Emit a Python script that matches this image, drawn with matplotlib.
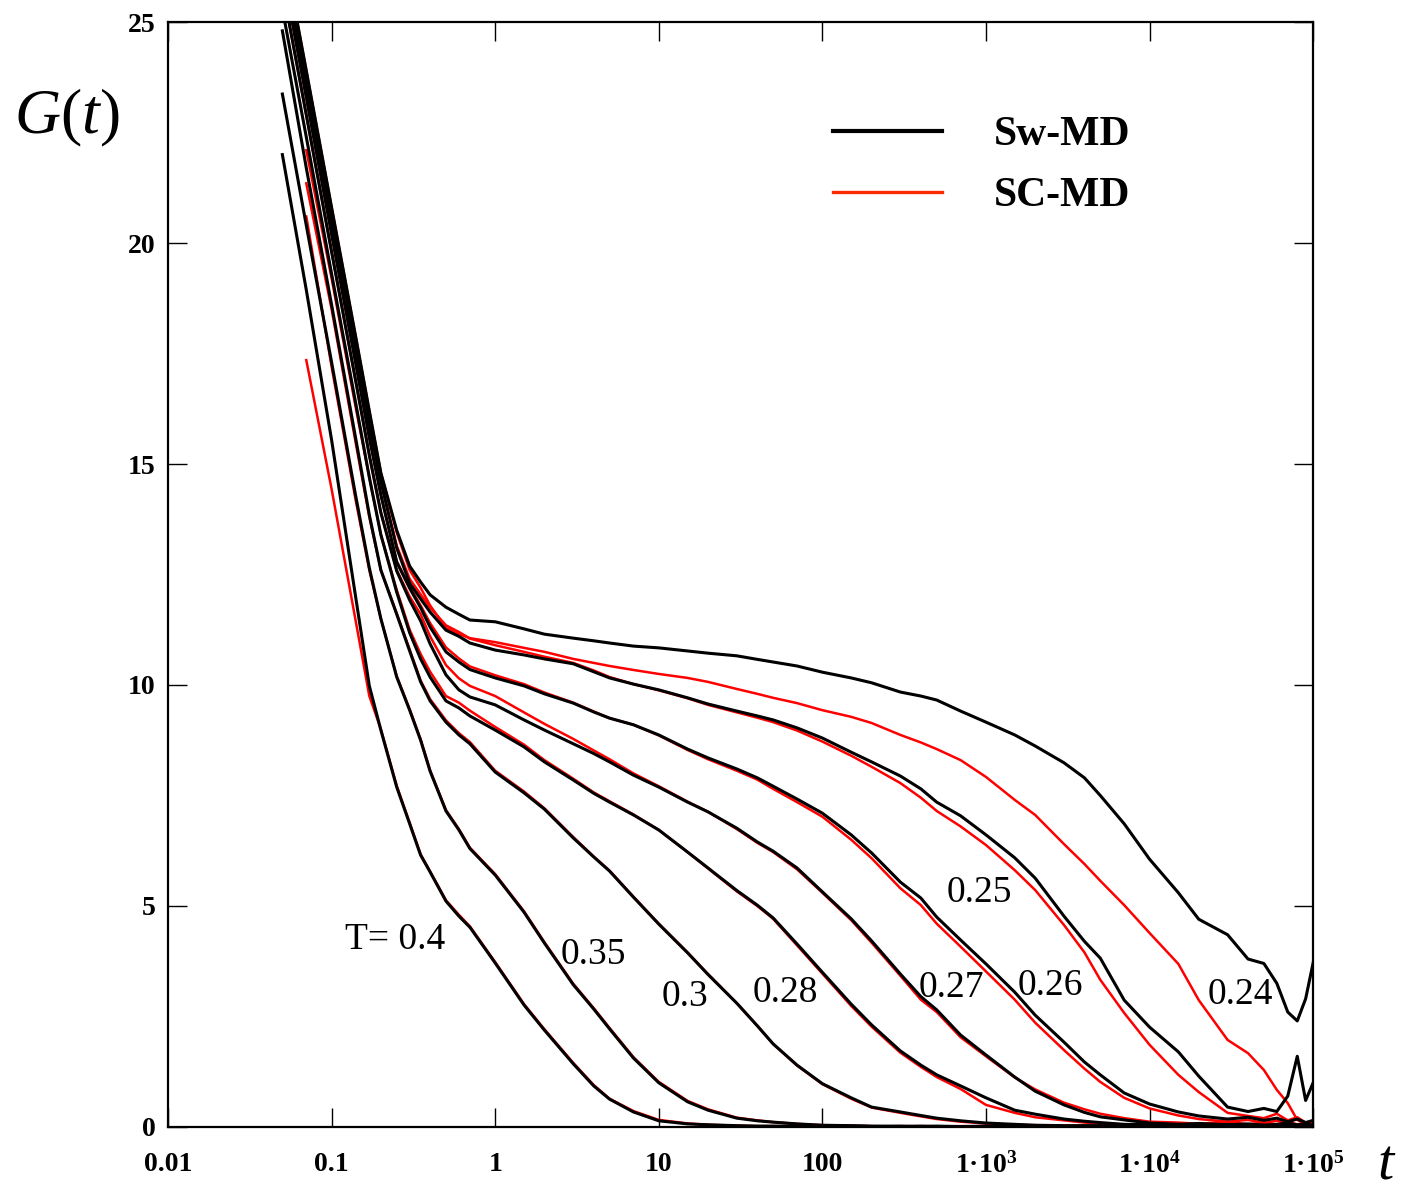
"""
G(t) relaxation curves, Sw-MD vs SC-MD
"""

import numpy as np
import matplotlib
matplotlib.use("Agg")
import matplotlib.pyplot as plt
from matplotlib.lines import Line2D
from matplotlib.ticker import FixedLocator, NullLocator

nan = np.nan

# time grid shared by all curves
t = [0.05, 0.07, 0.1, 0.14, 0.17,
     0.2, 0.25, 0.3, 0.35, 0.4,
     0.5, 0.6, 0.7, 1, 1.5,
     2, 3, 4, 5, 7,
     10, 15, 20, 30, 40,
     50, 70, 100, 150, 200,
     300, 400, 500, 700, 1e3,
     1.5e3, 2e3, 3e3, 4e3, 5e3,
     7e3, 1e4, 1.5e4, 2e4, 3e4,
     4e4, 5e4, 6e4, 7e4, 8e4,
     9e4, 1e5]

# Sw-MD (black), T = 0.4 ... 0.24
sw_040 = [22.0, 18.94, 15.54, 12.01, 9.98,
          8.98, 7.69, 6.86, 6.15, 5.77,
          5.11, 4.77, 4.52, 3.71, 2.76,
          2.19, 1.43, 0.93, 0.63, 0.34,
          0.14, 0.07, 0.05, 0.03, 0.02,
          0.02, 0.02, 0.01, 0.02, 0.01,
          0.01, 0.02, 0.01, 0.01, 0.01,
          0.02, 0.01, 0.01, 0.02, 0.01,
          0.01, 0.01, 0.02, 0.01, 0.01,
          0.02, 0.01, 0.02, 0.01, 0.03,
          0.01, 0.02]
sw_035 = [23.37, 20.4, 17.3, 14.3, 12.65,
          11.5, 10.18, 9.43, 8.75, 8.05,
          7.15, 6.72, 6.3, 5.70, 4.86,
          4.16, 3.22, 2.67, 2.22, 1.56,
          1.00, 0.57, 0.38, 0.20, 0.14,
          0.11, 0.07, 0.04, 0.03, 0.02,
          0.02, 0.01, 0.02, 0.01, 0.02,
          0.01, 0.02, 0.01, 0.01, 0.02,
          0.01, 0.02, 0.01, 0.02, 0.01,
          0.03, 0.01, 0.02, 0.03, 0.01,
          0.02, 0.01]
sw_030 = [24.8, 21.7, 18.6, 15.6, 13.85,
          12.6, 11.6, 10.77, 10.07, 9.64,
          9.16, 8.87, 8.67, 8.03, 7.56,
          7.19, 6.54, 6.11, 5.79, 5.2,
          4.59, 3.94, 3.45, 2.8, 2.29,
          1.88, 1.4, 0.98, 0.66, 0.45,
          0.34, 0.26, 0.2, 0.14, 0.09,
          0.06, 0.04, 0.03, 0.03, 0.03,
          0.02, 0.02, 0.01, 0.02, 0.02,
          0.01, 0.03, 0.02, 0.01, 0.03,
          0.02, 0.02]
sw_028 = [25.3, 22.4, 19.3, 16.4, 14.7,
          13.4, 12.1, 11.18, 10.59, 10.18,
          9.64, 9.48, 9.30, 8.98, 8.60,
          8.26, 7.85, 7.55, 7.35, 7.06,
          6.72, 6.22, 5.86, 5.35, 5.02,
          4.73, 4.14, 3.5, 2.78, 2.31,
          1.72, 1.40, 1.18, 0.93, 0.66,
          0.38, 0.29, 0.18, 0.13, 0.1,
          0.06, 0.05, 0.04, 0.03, 0.05,
          0.03, 0.04, 0.02, 0.05, 0.03,
          0.04, 0.02]
sw_027 = [25.8, 22.9, 19.8, 16.9, 15.2,
          13.9, 12.58, 11.92, 11.45, 10.93,
          10.23, 9.89, 9.73, 9.55, 9.21,
          8.98, 8.67, 8.45, 8.26, 7.96,
          7.69, 7.35, 7.13, 6.76, 6.45,
          6.24, 5.86, 5.32, 4.71, 4.21,
          3.46, 2.95, 2.65, 2.08, 1.63,
          1.13, 0.81, 0.5, 0.33, 0.23,
          0.16, 0.09, 0.06, 0.08, 0.05,
          0.07, 0.04, 0.06, 0.09, 0.05,
          0.07, 0.04]
sw_026 = [26.2, 23.3, 20.2, 17.3, 15.6,
          14.3, 12.78, 12.19, 11.75, 11.31,
          10.75, 10.52, 10.35, 10.16, 9.98,
          9.8, 9.59, 9.39, 9.25, 9.1,
          8.87, 8.55, 8.35, 8.1, 7.9,
          7.71, 7.42, 7.1, 6.61, 6.20,
          5.54, 5.18, 4.75, 4.23, 3.69,
          3.05, 2.53, 1.92, 1.47, 1.18,
          0.77, 0.52, 0.34, 0.25, 0.18,
          0.22, 0.15, 0.2, 0.12, 0.18,
          0.1, 0.15]
sw_025 = [26.5, 23.6, 20.5, 17.6, 15.9,
          14.6, 13.1, 12.3, 11.95, 11.65,
          11.24, 11.1, 10.95, 10.79, 10.68,
          10.59, 10.48, 10.3, 10.16, 10.02,
          9.89, 9.71, 9.57, 9.41, 9.3,
          9.21, 9.03, 8.80, 8.48, 8.26,
          7.94, 7.65, 7.35, 7.04, 6.61,
          6.09, 5.63, 4.77, 4.2, 3.82,
          2.87, 2.26, 1.70, 1.15, 0.45,
          0.35, 0.42, 0.35, 0.7, 1.6,
          0.6, 1.0]
sw_024 = [26.8, 23.9, 20.8, 17.9, 16.2,
          14.8, 13.5, 12.69, 12.33, 12.04,
          11.76, 11.6, 11.47, 11.43, 11.27,
          11.15, 11.06, 11.0, 10.95, 10.88,
          10.84, 10.77, 10.72, 10.66, 10.58,
          10.52, 10.43, 10.29, 10.16, 10.05,
          9.84, 9.75, 9.66, 9.41, 9.16,
          8.87, 8.62, 8.24, 7.9, 7.5,
          6.86, 6.06, 5.3, 4.7, 4.35,
          3.8, 3.7, 3.25, 2.6, 2.4,
          2.9, 3.71]

# SC-MD (red), same temperatures
sc_040 = [nan, 17.35, 14.43, 11.47, 9.75,
          9.0, 7.72, 6.88, 6.17, 5.78,
          5.13, 4.8, 4.54, 3.73, 2.78,
          2.21, 1.45, 0.95, 0.64, 0.36,
          0.16, 0.08, 0.05, 0.03, 0.02,
          0.02, 0.01, 0.02, 0.01, 0.01,
          0.02, 0.01, 0.01, 0.02, 0.01,
          0.01, 0.02, 0.01, 0.01, 0.02,
          0.01, 0.01, 0.02, 0.01, 0.02,
          0.01, 0.02, 0.01, 0.02, 0.01,
          0.02, 0.01]
sc_035 = [nan, 20.6, 17.2, 14.2, 12.6,
          11.5, 10.2, 9.45, 8.77, 8.07,
          7.17, 6.74, 6.32, 5.72, 4.88,
          4.18, 3.24, 2.69, 2.24, 1.58,
          1.02, 0.59, 0.4, 0.21, 0.15,
          0.11, 0.07, 0.04, 0.03, 0.02,
          0.01, 0.02, 0.01, 0.01, 0.02,
          0.01, 0.01, 0.02, 0.01, 0.02,
          0.02, 0.01, 0.02, 0.01, 0.01,
          0.02, 0.01, 0.02, 0.01, 0.02,
          0.01, 0.02]
sc_030 = [nan, 21.35, 18.5, 15.5, 13.8,
          12.6, 11.62, 10.8, 10.1, 9.68,
          9.2, 8.91, 8.71, 8.06, 7.59,
          7.21, 6.56, 6.12, 5.8, 5.21,
          4.6, 3.95, 3.46, 2.8, 2.29,
          1.88, 1.39, 0.97, 0.64, 0.44,
          0.32, 0.24, 0.18, 0.12, 0.08,
          0.05, 0.04, 0.03, 0.02, 0.02,
          0.03, 0.02, 0.02, 0.03, 0.02,
          0.02, 0.03, 0.02, 0.03, 0.02,
          0.02, 0.03]
sc_028 = [nan, 22.1, 19.2, 16.3, 14.7,
          13.4, 12.15, 11.25, 10.7, 10.3,
          9.75, 9.6, 9.42, 9.05, 8.65,
          8.3, 7.88, 7.57, 7.37, 7.07,
          6.72, 6.22, 5.85, 5.33, 5.0,
          4.71, 4.11, 3.47, 2.74, 2.27,
          1.68, 1.36, 1.13, 0.86, 0.5,
          0.32, 0.22, 0.15, 0.1, 0.08,
          0.06, 0.05, 0.06, 0.04, 0.07,
          0.03, 0.05, 0.04, 0.08, 0.03,
          0.05, 0.04]
sc_027 = [25.8, 22.9, 19.8, 16.9, 15.2,
          13.9, 12.6, 12.0, 11.6, 11.1,
          10.45, 10.15, 9.98, 9.75, 9.38,
          9.12, 8.78, 8.52, 8.32, 8.0,
          7.71, 7.36, 7.13, 6.74, 6.43,
          6.22, 5.83, 5.3, 4.68, 4.17,
          3.42, 2.88, 2.6, 2.03, 1.6,
          1.12, 0.85, 0.55, 0.4, 0.3,
          0.2, 0.12, 0.1, 0.07, 0.12,
          0.06, 0.1, 0.05, 0.11, 0.06,
          0.09, 0.05]
sc_026 = [26.2, 23.3, 20.2, 17.3, 15.6,
          14.3, 12.8, 12.22, 11.8, 11.4,
          10.85, 10.6, 10.42, 10.22, 10.02,
          9.83, 9.6, 9.4, 9.25, 9.1,
          8.86, 8.53, 8.32, 8.06, 7.86,
          7.65, 7.35, 7.02, 6.5, 6.08,
          5.4, 5.02, 4.6, 4.08, 3.52,
          2.88, 2.36, 1.74, 1.32, 1.02,
          0.66, 0.42, 0.26, 0.18, 0.12,
          0.16, 0.09, 0.14, 0.08, 0.2,
          0.06, 0.1]
sc_025 = [26.5, 23.6, 20.5, 17.6, 15.9,
          14.6, 13.15, 12.4, 12.05, 11.75,
          11.35, 11.2, 11.05, 10.9, 10.75,
          10.64, 10.5, 10.33, 10.18, 10.02,
          9.88, 9.7, 9.55, 9.38, 9.26,
          9.16, 8.97, 8.72, 8.40, 8.15,
          7.78, 7.45, 7.15, 6.8, 6.38,
          5.81, 5.36, 4.57, 3.95, 3.33,
          2.58, 1.86, 1.18, 0.79, 0.32,
          0.25, 0.2, 0.3, 0.15, 0.22,
          0.1, 0.12]
sc_024 = [26.8, 23.9, 20.8, 17.9, 16.2,
          14.8, 13.45, 12.6, 12.2, 11.8,
          11.29, 11.15, 11.06, 10.97, 10.84,
          10.75, 10.59, 10.5, 10.43, 10.34,
          10.25, 10.16, 10.07, 9.91, 9.8,
          9.71, 9.59, 9.43, 9.28, 9.14,
          8.87, 8.7, 8.55, 8.30, 7.92,
          7.4, 7.06, 6.4, 5.95, 5.57,
          5.02, 4.39, 3.69, 2.87, 1.97,
          1.67, 1.29, 0.84, 0.54, 0.16,
          0.07, 0.05]

sw_curves = [sw_040, sw_035, sw_030, sw_028, sw_027, sw_026, sw_025, sw_024]
sc_curves = [sc_040, sc_035, sc_030, sc_028, sc_027, sc_026, sc_025, sc_024]

x_ticks = [0.01, 0.1, 1, 10, 100, 1e3, 1e4, 1e5]
x_tick_labels = ["0.01", "0.1", "1", "10", "100",
                 "1\u00b710$^{\\mathbf{3}}$", "1\u00b710$^{\\mathbf{4}}$",
                 "1\u00b710$^{\\mathbf{5}}$"]
y_ticks = [0, 5, 10, 15, 20, 25]

# label text and where it sits (t, G)
curve_labels = [("T= 0.4", 0.243, 4.23), ("0.35", 4.0, 3.89), ("0.3", 14.4, 2.94),
                ("0.28", 59, 3.03), ("0.27", 611, 3.14), ("0.26", 2460, 3.19),
                ("0.25", 918, 5.29), ("0.24", 35700, 2.99)]

plt.rcParams['font.family'] = ['Liberation Serif', 'DejaVu Serif']
plt.rcParams['mathtext.fontset'] = 'custom'
plt.rcParams['mathtext.rm'] = 'Liberation Serif'
plt.rcParams['mathtext.it'] = 'Liberation Serif:italic'
plt.rcParams['mathtext.bf'] = 'Liberation Serif:bold'

fig = plt.figure(figsize=(14.05, 11.96), dpi=100)
ax = fig.add_axes([0.1196, 0.0577, 0.8150, 0.9239])

for g in sc_curves:
    ax.plot(t, g, color='#ff0000', lw=1.8, solid_joinstyle='round')
for g in sw_curves:
    ax.plot(t, g, color='black', lw=2.2, solid_joinstyle='round')

ax.set_xscale('log')
ax.set_xlim(0.01, 1e5)
ax.set_ylim(0, 25)
ax.xaxis.set_major_locator(FixedLocator(x_ticks))
ax.xaxis.set_minor_locator(NullLocator())
ax.set_xticklabels(x_tick_labels, fontweight='bold', fontsize=20)
ax.set_yticks(y_ticks)
ax.set_yticklabels([str(v) for v in y_ticks], fontweight='bold', fontsize=20)
ax.tick_params(axis='both', which='major', direction='in', length=14, width=1,
               top=True, right=True)
ax.tick_params(axis='x', pad=18)
ax.tick_params(axis='y', pad=9)
for s in ax.spines.values():
    s.set_linewidth(1.6)

for txt, tx, gy in curve_labels:
    ax.text(tx, gy, txt, fontsize=27, ha='center', va='center')

handles = [Line2D([], [], color='black', lw=3.0),
           Line2D([], [], color='#ff2a00', lw=2.4)]
ax.legend(handles, ["Sw-MD", "SC-MD"], loc='upper left',
          bbox_to_anchor=(0.581, 0.915), frameon=False,
          prop=dict(family='Liberation Serif', weight='bold', size=30),
          handlelength=2.6, handletextpad=1.25, labelspacing=0.55,
          borderpad=0, borderaxespad=0)

fig.text(0.0475, 0.9013, "$G(t)$", fontsize=46, ha='center', va='center')
fig.text(0.987, 0.026, "$t$", fontsize=42, ha='center', va='center')

fig.savefig("out.png", dpi=100)
